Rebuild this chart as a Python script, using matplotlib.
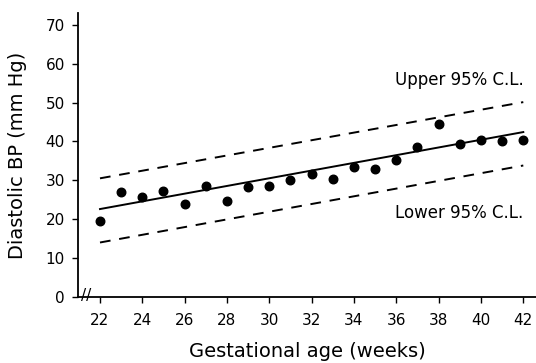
import numpy as np
import matplotlib
matplotlib.use("Agg")
import matplotlib.pyplot as plt

# Pressione diastolica media per settimana gestazionale
settimane = [22, 23, 24, 25, 26, 27, 28, 29, 30, 31, 32, 33, 34, 35, 36, 37, 38, 39, 40, 41, 42]
pressione = [19.5, 27.0, 25.7, 27.2, 23.9, 28.5, 24.7, 28.3, 28.5, 30.0, 31.5, 30.4, 33.4, 32.9, 35.2, 38.6, 44.5, 39.3, 40.4, 40.1, 40.4]

# Retta di regressione e limiti di confidenza al 95% (estremi a 22 e 42 settimane)
estremi = [22, 42]
retta = [22.6, 42.4]
limite_sup = [30.5, 50.1]
limite_inf = [14.0, 33.8]

xticks = [22, 24, 26, 28, 30, 32, 34, 36, 38, 40, 42]
yticks = [0, 10, 20, 30, 40, 50, 60, 70]

plt.rcParams['font.family'] = ['DejaVu Sans']

fig = plt.figure(figsize=(5.36, 3.63), dpi=100)
ax = fig.add_axes([0.1455, 0.182, 0.8545, 0.782])

ax.scatter(settimane, pressione, s=38, color='black', zorder=3)
ax.plot(estremi, retta, color='black', lw=1.4)
ax.plot(estremi, limite_sup, color='black', lw=1.4, dashes=(5.5, 4.5))
ax.plot(estremi, limite_inf, color='black', lw=1.4, dashes=(5.5, 4.5))

ax.text(42, 55.8, 'Upper 95% C.L.', ha='right', va='center', fontsize=12)
ax.text(42, 21.6, 'Lower 95% C.L.', ha='right', va='center', fontsize=12)

ax.set_xlim(20.96, 42.6)
ax.set_ylim(0, 73)
ax.set_xticks(xticks)
ax.set_yticks(yticks)
ax.tick_params(labelsize=11, length=4.5, width=1, direction='out')
ax.tick_params(axis='x', pad=7)
ax.tick_params(axis='y', pad=5)
ax.spines['top'].set_visible(False)
ax.spines['right'].set_visible(False)
ax.spines['left'].set_linewidth(1.3)
ax.spines['bottom'].set_linewidth(1.3)

# Interruzione dell'asse x
ax.text(21.35, 0.4, '//', ha='center', va='center', fontsize=11, clip_on=False)

ax.set_xlabel('Gestational age (weeks)', fontsize=14, labelpad=10)
ax.set_ylabel('Diastolic BP (mm Hg)', fontsize=14, labelpad=13)

fig.savefig('out.png', dpi=100)
